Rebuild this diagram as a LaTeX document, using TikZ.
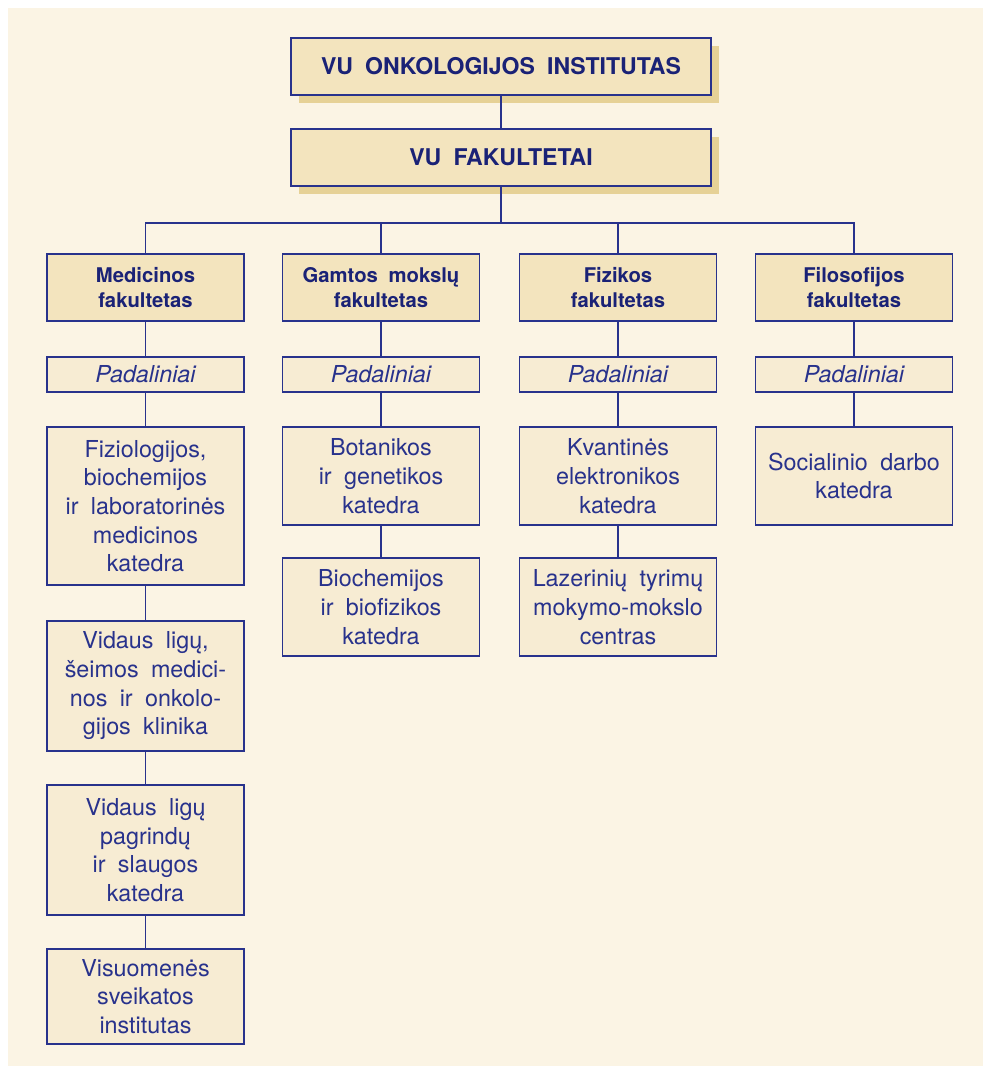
\documentclass[tikz,border=0pt]{standalone}
\usepackage{fontspec}
\setmainfont{TeX Gyre Heros}[WordSpace=1.9]
\usetikzlibrary{shadows}
\definecolor{bgc}{RGB}{251,244,228}
\definecolor{hifill}{RGB}{243,228,190}
\definecolor{lofill}{RGB}{247,236,211}
\definecolor{shadc}{RGB}{230,209,150}
\definecolor{linec}{RGB}{40,50,140}
\definecolor{boldtext}{RGB}{26,34,118}
\definecolor{regtext}{RGB}{40,50,140}
\tikzset{
  base/.style={draw=linec, line width=0.9pt, align=center, inner sep=2pt},
  titlebox/.style={base, fill=hifill, text=boldtext, minimum width=315pt, minimum height=42.75pt,
    font=\bfseries\fontsize{17.3}{21}\selectfont,
    drop shadow={shadow xshift=6pt, shadow yshift=-6pt, fill=shadc, opacity=1}},
  facbox/.style={base, fill=hifill, text=boldtext, minimum width=147.75pt, minimum height=50.25pt,
    font=\bfseries\fontsize{15.2}{19.3}\selectfont},
  padbox/.style={base, fill=lofill, text=regtext, minimum width=147.75pt, minimum height=26.25pt,
    font=\itshape\fontsize{17.5}{21.5}\selectfont},
  unitbox/.style={base, fill=lofill, text=regtext, minimum width=147.75pt,
    font=\fontsize{17.5}{21.5}\selectfont},
  conn/.style={draw=linec, line width=0.9pt}
}
\begin{document}
\begin{tikzpicture}[x=0.75pt, y=-0.75pt]
\useasboundingbox (0,0) rectangle (983,1066);
\fill[bgc] (8,8) rectangle (983,1066);
% top
\node[titlebox] (inst) at (501,66.5) {VU ONKOLOGIJOS INSTITUTAS};
\node[titlebox] (fak) at (501,157.5) {VU FAKULTETAI};
\coordinate (bus) at (501,223);
% faculties
\node[facbox] (med) at (145.5,287.5) {Medicinos\\fakultetas};
\node[facbox] (gam) at (381,287.5) {Gamtos mokslų\\fakultetas};
\node[facbox] (fiz) at (618,287.5) {Fizikos\\fakultetas};
\node[facbox] (fil) at (854,287.5) {Filosofijos\\fakultetas};
% padaliniai
\node[padbox] (pmed) at (145.5,374.5) {Padaliniai};
\node[padbox] (pgam) at (381,374.5) {Padaliniai};
\node[padbox] (pfiz) at (618,374.5) {Padaliniai};
\node[padbox] (pfil) at (854,374.5) {Padaliniai};
% medicine units
\node[unitbox, minimum height=118.5pt] (m1) at (145.5,506) {Fiziologijos,\\biochemijos\\ir laboratorinės\\medicinos\\katedra};
\node[unitbox, minimum height=97.5pt] (m2) at (145.5,686) {Vidaus ligų,\\šeimos medici-\\nos ir onkolo-\\gijos klinika};
\node[unitbox, minimum height=97.5pt] (m3) at (145.5,850) {Vidaus ligų\\pagrindų\\ir slaugos\\katedra};
\node[unitbox, minimum height=71.25pt] (m4) at (145.5,996.5) {Visuomenės\\sveikatos\\institutas};
% gamtos units
\node[unitbox, minimum height=73.5pt] (g1) at (381,476) {Botanikos\\ir genetikos\\katedra};
\node[unitbox, minimum height=73.5pt] (g2) at (381,607) {Biochemijos\\ir biofizikos\\katedra};
% fizikos units
\node[unitbox, minimum height=73.5pt] (f1) at (618,476) {Kvantinės\\elektronikos\\katedra};
\node[unitbox, minimum height=73.5pt] (f2) at (618,607) {Lazerinių tyrimų\\mokymo-mokslo\\centras};
% filosofijos units
\node[unitbox, minimum height=73.5pt] (s1) at (854,476) {Socialinio darbo\\katedra};
% connectors
\draw[conn] (inst) -- (fak);
\draw[conn] (fak.south) -- (bus);
\draw[conn] (med.north) -- (med.north |- bus) -- (fil.north |- bus) -- (fil.north);
\draw[conn] (gam.north) -- (gam.north |- bus);
\draw[conn] (fiz.north) -- (fiz.north |- bus);
\draw[conn] (med) -- (pmed);
\draw[conn] (gam) -- (pgam);
\draw[conn] (fiz) -- (pfiz);
\draw[conn] (fil) -- (pfil);
\draw[conn] (pmed) -- (m1);
\draw[conn] (m1) -- (m2);
\draw[conn] (m2) -- (m3);
\draw[conn] (m3) -- (m4);
\draw[conn] (pgam) -- (g1);
\draw[conn] (g1) -- (g2);
\draw[conn] (pfiz) -- (f1);
\draw[conn] (f1) -- (f2);
\draw[conn] (pfil) -- (s1);
\end{tikzpicture}
\end{document}
